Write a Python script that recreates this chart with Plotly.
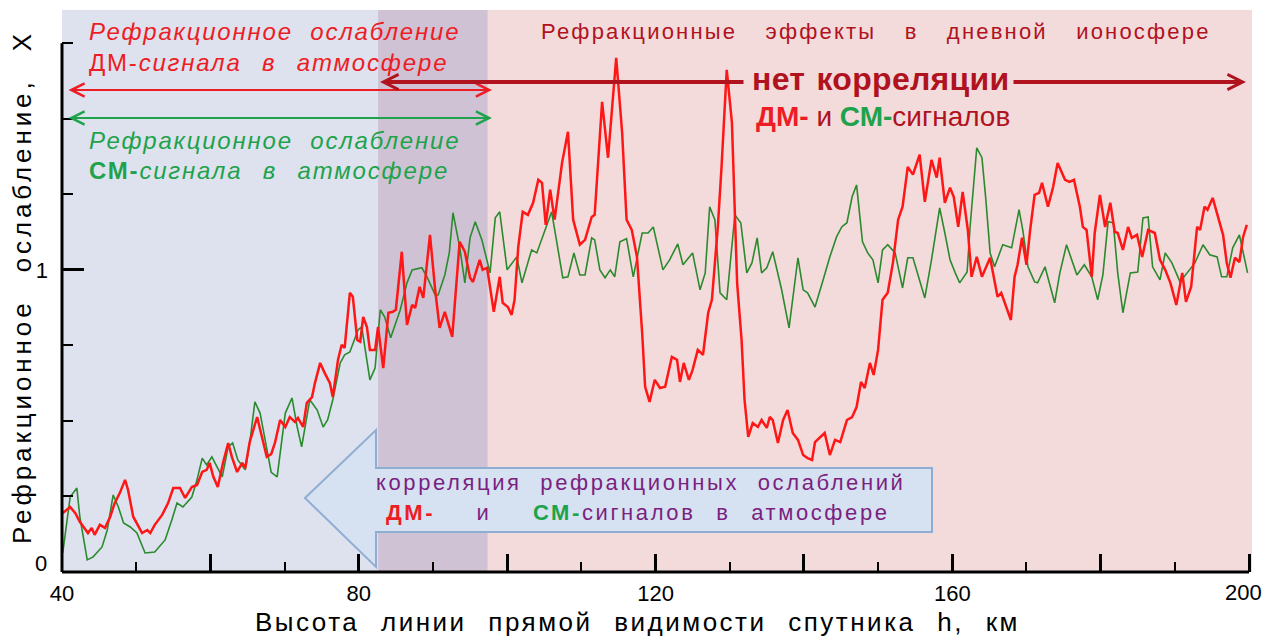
import plotly.graph_objects as go

# ---------------- data ----------------
red_h = [40.1, 41.1, 41.8, 42.4, 43.5, 44.0, 44.4, 45.1, 45.8, 46.5,
         47.1, 47.8, 48.5, 48.9, 49.6, 50.8, 51.5, 51.9, 52.5, 53.5,
         54.3, 55.0, 55.9, 56.6, 57.5, 58.2, 58.9, 59.5, 59.9, 60.4,
         61.0, 61.7, 62.4, 62.9, 63.6, 64.3, 64.7, 65.3, 66.3, 67.0,
         67.6, 68.2, 68.7, 69.4, 70.1, 70.7, 71.4, 71.8, 72.5, 73.0,
         73.7, 74.1, 74.8, 75.4, 76.1, 76.5, 77.2, 77.7, 78.1, 78.8,
         79.2, 79.8, 80.2, 80.6, 81.1, 81.5, 82.2, 82.6, 83.3, 84.0,
         84.6, 85.0, 85.8, 86.5, 87.2, 87.6, 88.2, 88.7, 89.6, 90.3,
         90.9, 91.6, 92.6, 93.6, 94.3, 95.0, 95.4, 96.3, 96.7, 97.3,
         98.2, 99.0, 99.4, 100.1, 100.6, 101.0, 101.5, 102.1, 102.8, 103.5,
         104.2, 104.7, 105.2, 105.8, 106.4, 107.4, 108.2, 108.9, 109.8, 110.5,
         111.4, 111.8, 112.8, 113.6, 114.7, 115.5, 116.1, 116.8, 117.5, 118.2,
         118.6, 119.2, 119.9, 120.6, 121.3, 122.2, 122.9, 123.3, 123.8, 124.5,
         125.0, 125.7, 126.4, 127.1, 127.6, 128.4, 128.9, 129.6, 130.3, 131.0,
         131.6, 132.0, 132.5, 133.1, 133.8, 134.3, 135.0, 135.4, 135.8, 136.5,
         137.2, 137.8, 138.5, 139.2, 139.9, 140.5, 141.1, 141.5, 142.2, 142.8,
         143.5, 144.2, 144.9, 145.8, 146.5, 147.1, 147.7, 148.2, 148.9, 149.4,
         150.0, 150.6, 151.3, 152.0, 152.7, 153.3, 154.0, 154.7, 155.6, 156.3,
         157.2, 157.9, 158.3, 159.0, 159.7, 160.2, 160.8, 161.4, 162.1, 162.6,
         163.3, 164.0, 165.1, 165.7, 166.1, 166.6, 167.3, 167.9, 168.4, 168.8,
         169.4, 170.0, 170.5, 171.1, 171.7, 172.1, 172.9, 173.6, 174.2, 175.2,
         175.8, 176.4, 177.2, 177.6, 178.1, 178.8, 179.2, 179.9, 180.6, 181.3,
         181.9, 182.3, 183.0, 183.7, 184.2, 184.9, 185.6, 186.4, 187.3, 188.0,
         188.7, 189.4, 190.2, 191.0, 191.5, 192.2, 193.0, 193.4, 194.0, 194.4,
         195.1, 195.8, 196.5, 197.0, 197.5, 198.1, 198.7, 199.2, 199.7]
red_x = [0.195, 0.215, 0.195, 0.166, 0.129, 0.146, 0.123, 0.156, 0.146, 0.183,
         0.228, 0.262, 0.305, 0.272, 0.183, 0.129, 0.139, 0.129, 0.156, 0.189,
         0.228, 0.278, 0.278, 0.245, 0.281, 0.288, 0.331, 0.338, 0.361, 0.315,
         0.281, 0.361, 0.427, 0.381, 0.331, 0.361, 0.344, 0.430, 0.513, 0.447,
         0.381, 0.390, 0.427, 0.503, 0.480, 0.513, 0.497, 0.510, 0.480, 0.560,
         0.579, 0.626, 0.692, 0.659, 0.626, 0.579, 0.702, 0.752, 0.742, 0.924,
         0.911, 0.768, 0.762, 0.844, 0.811, 0.735, 0.735, 0.811, 0.675, 0.858,
         0.861, 0.868, 1.060, 0.818, 0.884, 0.874, 0.944, 0.907, 1.116, 0.934,
         0.808, 0.861, 0.778, 1.093, 1.060, 0.974, 0.960, 1.033, 1.000, 1.007,
         0.861, 0.977, 0.891, 0.877, 0.851, 0.901, 1.076, 1.192, 1.182, 1.222,
         1.298, 1.288, 1.149, 1.265, 1.166, 1.354, 1.457, 1.166, 1.083, 1.099,
         1.175, 1.182, 1.556, 1.371, 1.702, 1.454, 1.166, 1.132, 1.043, 0.791,
         0.613, 0.563, 0.636, 0.609, 0.613, 0.712, 0.702, 0.629, 0.692, 0.636,
         0.669, 0.735, 0.719, 0.858, 0.901, 1.142, 1.341, 1.662, 1.487, 0.957,
         0.768, 0.570, 0.447, 0.493, 0.480, 0.503, 0.477, 0.513, 0.503, 0.427,
         0.503, 0.536, 0.460, 0.437, 0.387, 0.377, 0.371, 0.430, 0.447, 0.460,
         0.387, 0.437, 0.430, 0.503, 0.513, 0.546, 0.629, 0.609, 0.692, 0.652,
         0.735, 0.901, 0.924, 1.023, 1.166, 1.209, 1.341, 1.315, 1.381, 1.225,
         1.364, 1.305, 1.371, 1.222, 1.272, 1.242, 1.142, 1.258, 1.132, 0.977,
         1.043, 0.977, 1.040, 0.967, 0.911, 0.924, 0.877, 0.834, 0.977, 1.017,
         1.106, 1.017, 1.132, 1.248, 1.255, 1.288, 1.209, 1.275, 1.354, 1.298,
         1.291, 1.298, 1.209, 1.142, 1.132, 0.977, 1.122, 1.248, 1.142, 1.222,
         1.126, 1.122, 1.066, 1.142, 1.106, 1.116, 1.043, 1.132, 1.122, 1.033,
         1.000, 0.957, 0.884, 0.990, 0.894, 0.944, 1.142, 1.132, 1.209, 1.199,
         1.238, 1.175, 1.116, 1.023, 0.974, 1.040, 1.026, 1.109, 1.149]

green_h = [40.1, 41.1, 42.0, 42.4, 43.4, 44.2, 45.4, 46.1, 46.9, 47.6,
           48.3, 49.2, 50.1, 51.2, 52.5, 53.9, 54.8, 55.5, 56.3, 57.5,
           58.2, 58.9, 59.5, 60.2, 60.9, 61.6, 62.4, 63.0, 63.7, 64.7,
           65.3, 66.0, 66.7, 67.6, 68.2, 69.0, 70.1, 71.0, 71.7, 72.3,
           73.4, 74.4, 75.2, 75.8, 76.5, 77.5, 78.1, 78.8, 79.9, 80.4,
           81.5, 82.2, 82.9, 83.5, 84.3, 85.6, 86.5, 87.2, 88.5, 89.2,
           90.3, 90.7, 91.6, 92.2, 92.7, 93.6, 94.3, 95.0, 95.7, 96.6,
           97.7, 98.4, 99.0, 100.0, 101.3, 102.0, 103.3, 104.0, 105.1, 106.0,
           107.5, 108.2, 109.0, 109.8, 110.5, 111.4, 111.8, 112.5, 113.2, 113.9,
           114.5, 115.2, 116.1, 117.0, 118.2, 119.0, 119.7, 121.0, 121.9, 123.0,
           123.7, 125.0, 126.0, 126.7, 127.3, 128.0, 128.7, 129.6, 130.7, 131.5,
           132.3, 133.0, 133.7, 134.3, 135.0, 135.8, 137.0, 138.0, 139.2, 139.9,
           140.5, 141.5, 142.6, 143.5, 144.4, 145.1, 145.8, 146.5, 147.1, 147.9,
           148.6, 149.3, 150.0, 150.6, 151.3, 152.3, 153.3, 154.0, 154.7, 156.3,
           157.2, 158.3, 159.0, 159.7, 160.4, 161.0, 162.0, 162.4, 163.3, 164.0,
           164.5, 165.1, 165.7, 166.8, 168.0, 169.0, 169.5, 170.2, 171.1, 171.5,
           172.5, 173.8, 174.5, 175.4, 176.1, 176.8, 177.8, 178.8, 179.6, 180.3,
           181.0, 181.7, 182.3, 183.0, 184.0, 185.0, 185.7, 186.4, 187.0, 188.0,
           188.7, 189.6, 190.7, 191.6, 192.7, 193.8, 194.7, 195.7, 196.3, 197.0,
           197.8, 198.7, 199.8]
green_x = [0.063, 0.248, 0.278, 0.183, 0.040, 0.050, 0.083, 0.139, 0.255, 0.215,
           0.162, 0.149, 0.129, 0.063, 0.066, 0.106, 0.172, 0.228, 0.215, 0.248,
           0.305, 0.377, 0.354, 0.381, 0.348, 0.315, 0.414, 0.427, 0.371, 0.338,
           0.427, 0.563, 0.526, 0.414, 0.330, 0.315, 0.526, 0.576, 0.480, 0.414,
           0.570, 0.536, 0.480, 0.503, 0.570, 0.692, 0.719, 0.728, 0.801, 0.811,
           0.636, 0.675, 0.868, 0.844, 0.775, 0.868, 0.957, 1.000, 1.007, 0.977,
           0.917, 0.917, 0.983, 1.056, 1.189, 1.076, 0.957, 1.106, 1.159, 1.099,
           0.990, 1.172, 1.192, 1.000, 1.043, 0.957, 1.066, 1.056, 1.132, 1.192,
           0.974, 0.977, 1.056, 0.983, 0.983, 1.106, 1.099, 1.000, 0.974, 1.000,
           0.977, 1.093, 1.103, 0.977, 1.122, 1.122, 1.142, 1.000, 1.033, 1.086,
           1.017, 1.056, 0.934, 0.990, 1.209, 1.166, 0.924, 0.901, 1.182, 1.155,
           0.990, 1.023, 1.106, 0.990, 1.007, 1.060, 0.934, 0.808, 1.040, 0.934,
           0.924, 0.877, 0.967, 1.043, 1.109, 1.142, 1.156, 1.242, 1.281, 1.093,
           1.056, 1.033, 0.957, 1.066, 1.083, 1.056, 0.940, 1.040, 1.040, 0.907,
           1.033, 1.205, 1.122, 1.033, 0.990, 0.957, 0.993, 1.142, 1.404, 1.371,
           1.240, 1.056, 1.010, 1.083, 1.073, 1.199, 1.132, 1.010, 0.960, 0.957,
           1.010, 0.891, 0.990, 1.083, 1.033, 0.983, 1.017, 0.977, 0.901, 0.983,
           1.159, 1.156, 0.990, 0.858, 0.990, 0.993, 1.172, 1.175, 1.010, 0.967,
           1.056, 1.023, 0.960, 0.990, 1.023, 1.083, 1.050, 1.043, 0.977, 0.977,
           1.073, 1.116, 0.990]

x_tick_vals = [40, 60, 80, 100, 120, 140, 160, 180, 200]
x_tick_text = ["40", "", "80", "", "120", "", "160", "", ""]
x_last_label = (200, "200")
y_tick_vals = [0, 1]
y_tick_text = ["", "1"]
y_first_label = (0, "0")

# zones (km)
zone_dm_atm = (40, 97.4)     # DM atmospheric refraction zone
zone_cm_atm = (40, 82.6)     # CM atmospheric refraction zone
zone_iono = (97.4, 200.4)    # daytime ionosphere

# ---------------- geometry / style ----------------
X_MIN, X_MAX, Y_MAX = 40, 200.4, 1.86
W, H = 1265, 638
ML, MR, MT, MB = 62, 13, 10, 66
PW, PH = W - ML - MR, H - MT - MB

def px2x(px):
    return X_MIN + (px - ML) / PW * (X_MAX - X_MIN)

def py2y(py):
    return (H - MB - py) / PH * Y_MAX

def px2paper(px):
    return (px - ML) / PW

def py2paper(py):
    return (H - MB - py) / PH

RED_LINE = "#ff1616"
GREEN_LINE = "#2b8a2e"
RED_TXT = "#ee1c24"
GREEN_TXT = "#1ea24c"
DARK_RED = "#b0121e"
PURPLE = "#7b1f80"
FONT = "Liberation Sans, Arial, sans-serif"

def sp(text, ls, ws=0):
    return f"<span style='letter-spacing:{ls}px;word-spacing:{ws}px'>{text}</span>"

fig = go.Figure()

fig.add_trace(go.Scatter(x=green_h, y=green_x, mode="lines",
                         line=dict(color=GREEN_LINE, width=1.6), hoverinfo="skip"))
fig.add_trace(go.Scatter(x=red_h, y=red_x, mode="lines",
                         line=dict(color=RED_LINE, width=2.5), hoverinfo="skip"))

shapes = [
    dict(type="rect", xref="x", yref="y", x0=zone_cm_atm[0], x1=zone_cm_atm[1], y0=0, y1=Y_MAX,
         fillcolor="#dde2ee", line_width=0, layer="below"),
    dict(type="rect", xref="x", yref="y", x0=zone_cm_atm[1], x1=zone_dm_atm[1], y0=0, y1=Y_MAX,
         fillcolor="#cfc2d4", line_width=0, layer="below"),
    dict(type="rect", xref="x", yref="y", x0=zone_iono[0], x1=zone_iono[1], y0=0, y1=Y_MAX,
         fillcolor="#f3dbdb", line_width=0, layer="below"),
]

# block arrow (correlation)
tip = (px2x(305), py2y(498))
bx0, bx1 = px2x(376), px2x(932)
by_top, by_bot = py2y(468), py2y(532)
hy_top, hy_bot = py2y(430), py2y(567)
path = (f"M{tip[0]},{tip[1]} L{bx0},{hy_top} L{bx0},{by_top} L{bx1},{by_top} "
        f"L{bx1},{by_bot} L{bx0},{by_bot} L{bx0},{hy_bot} Z")
shapes.append(dict(type="path", xref="x", yref="y", path=path,
                   fillcolor="#d6e2f2", line=dict(color="#8fadd3", width=2), layer="above"))

# axis lines
shapes.append(dict(type="line", xref="paper", yref="paper", x0=0, x1=(200 - X_MIN) / (X_MAX - X_MIN),
                   y0=0, y1=0, line=dict(color="black", width=3), layer="above"))
shapes.append(dict(type="line", xref="paper", yref="paper", x0=0, x1=0,
                   y0=0, y1=1.75 / Y_MAX, line=dict(color="black", width=3), layer="above"))

ann = []

def arrow(x_head, x_tail, y, color, width, both=False, size=1.3):
    ann.append(dict(x=x_head, y=y, ax=x_tail, ay=y, xref="x", yref="y", axref="x", ayref="y",
                    text="", showarrow=True, arrowhead=5, startarrowhead=5,
                    arrowside="end+start" if both else "end",
                    arrowsize=size, startarrowsize=size, arrowwidth=width, arrowcolor=color,
                    standoff=0, startstandoff=0))

# DM / CM atmospheric zones
arrow(px2x(492), px2x(67), py2y(90), RED_TXT, 2, both=True)
arrow(px2x(492), px2x(67), py2y(118), GREEN_TXT, 2, both=True)
# no-correlation arrows
arrow(px2x(380), px2x(745), py2y(82), DARK_RED, 4, size=0.75)
arrow(px2x(1246), px2x(1012), py2y(82), DARK_RED, 4, size=0.75)

def text(x, y, t, size, color, xanchor="left", xref="x", yref="y", angle=0, xshift=0):
    ann.append(dict(x=x, y=y, xref=xref, yref=yref, text=t, showarrow=False,
                    xanchor=xanchor, yanchor="middle", textangle=angle, xshift=xshift,
                    font=dict(family=FONT, size=size, color=color)))

text(px2x(87), py2y(31), sp("<i>Рефракционное ослабление</i>", 1.8, 9), 24, RED_TXT)
text(px2x(87), py2y(62), sp("ДМ-<i>сигнала в атмосфере</i>", 1.8, 12), 24, RED_TXT)
text(px2x(87), py2y(140), sp("<i>Рефракционное ослабление</i>", 1.8, 9), 24, GREEN_TXT)
text(px2x(87), py2y(170), sp("<b>СМ-</b><i>сигнала в атмосфере</i>", 1.8, 12), 24, GREEN_TXT)

text(px2x(876), py2y(31), sp("Рефракционные эффекты в дневной ионосфере", 2.2, 20), 22, DARK_RED,
     xanchor="center")
text(px2x(881), py2y(79), sp("<b>нет корреляции</b>", 0.3, 2), 32, DARK_RED, xanchor="center")
text(px2x(883), py2y(116),
     f"<b><span style='color:{RED_TXT}'>ДМ-</span></b> и "
     f"<b><span style='color:{GREEN_TXT}'>СМ-</span></b>сигналов", 28, DARK_RED, xanchor="center")

text(px2x(640), py2y(482), sp("корреляция рефракционных ослаблений", 2.6, 10), 22, PURPLE,
     xanchor="center")
text(px2x(638), py2y(512),
     sp(f"<b><span style='color:{RED_TXT}'>ДМ-</span></b>  и  "
        f"<b><span style='color:{GREEN_TXT}'>СМ-</span></b>сигналов в атмосфере", 2.6, 12),
     22, PURPLE, xanchor="center")

# edge tick labels placed as in the picture
text(px2paper(1243), py2paper(592), x_last_label[1], 22, "black", xanchor="center",
     xref="paper", yref="paper")
text(px2paper(49), py2paper(563), y_first_label[1], 22, "black", xanchor="right",
     xref="paper", yref="paper")

# axis titles
text(px2paper(637), py2paper(622),
     sp("Высота линии прямой видимости спутника h, км", 2.5, 12), 26, "black",
     xanchor="center", xref="paper", yref="paper")
text(px2paper(22), py2paper(287),
     sp("Рефракционное ослабление, X", 3.9, 16), 26, "black",
     xanchor="center", xref="paper", yref="paper", angle=-90)

fig.update_layout(
    width=W, height=H,
    margin=dict(l=ML, r=MR, t=MT, b=MB, autoexpand=False),
    paper_bgcolor="white", plot_bgcolor="white",
    showlegend=False,
    shapes=shapes, annotations=ann,
    xaxis=dict(range=[X_MIN, X_MAX], showgrid=False, zeroline=False, showline=False,
               automargin=False,
               tickmode="array", tickvals=x_tick_vals, ticktext=x_tick_text,
               ticks="inside", ticklen=18, tickwidth=2.5, tickcolor="black",
               minor=dict(ticks="inside", ticklen=10, tickwidth=2, tickcolor="black",
                          dtick=10, tick0=40),
               tickfont=dict(family=FONT, size=22, color="black"), ticklabelstandoff=6),
    yaxis=dict(range=[0, Y_MAX], showgrid=False, zeroline=False, showline=False,
               automargin=False,
               tickmode="array", tickvals=y_tick_vals, ticktext=y_tick_text,
               ticks="inside", ticklen=22, tickwidth=2.5, tickcolor="black",
               minor=dict(ticks="inside", ticklen=11, tickwidth=2, tickcolor="black",
                          dtick=0.25, tick0=0),
               tickfont=dict(family=FONT, size=22, color="black"), ticklabelstandoff=13),
)

fig.write_html("out.html", config={"displayModeBar": False},
               post_script="document.body.style.margin='0';"
                           "document.body.style.overflow='hidden';")
